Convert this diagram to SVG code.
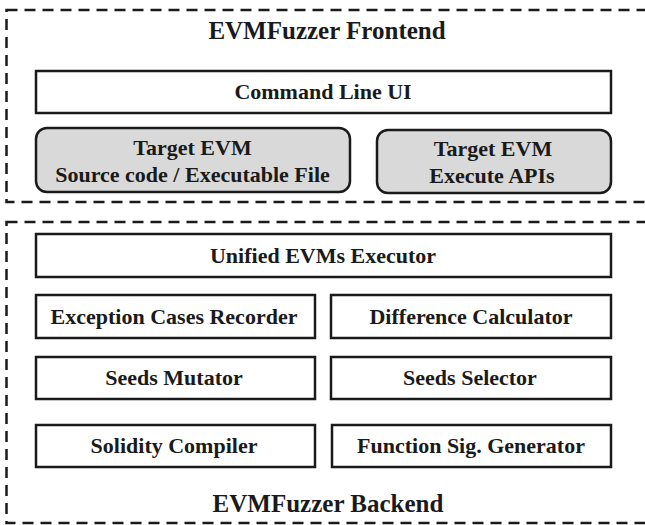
<svg xmlns="http://www.w3.org/2000/svg" width="645" height="525" viewBox="0 0 645 525">
  <style>
    .frame { fill: none; stroke: #1a1a1a; stroke-width: 2.5; stroke-dasharray: 11 7; }
    .box { fill: #ffffff; stroke: #1a1a1a; stroke-width: 2.5; }
    .gbox { fill: #d9d9d9; stroke: #1a1a1a; stroke-width: 2.5; }
    .lbl { font-family: "Liberation Serif", "Times New Roman", serif; font-weight: bold; font-size: 22px; fill: #1a1a1a; text-anchor: middle; }
    .ttl { font-family: "Liberation Serif", "Times New Roman", serif; font-weight: bold; font-size: 25px; fill: #1a1a1a; text-anchor: middle; }
  </style>
  <rect width="645" height="525" fill="#ffffff"/>

  <g id="frontend">
    <rect class="frame" x="6.5" y="10" width="700" height="192"/>
    <text class="ttl" x="327" y="39">EVMFuzzer Frontend</text>
  </g>

  <g id="backend">
    <rect class="frame" x="6.5" y="222" width="700" height="301"/>
    <text class="ttl" x="328" y="512">EVMFuzzer Backend</text>
  </g>

  <g id="command-line-ui">
    <rect class="box" x="36" y="71" width="575" height="42"/>
    <text class="lbl" x="323" y="99">Command Line UI</text>
  </g>

  <g id="target-evm-source">
    <rect class="gbox" x="36" y="128" width="314" height="64" rx="11" ry="11"/>
    <text class="lbl" x="192.5" y="155">Target EVM</text>
    <text class="lbl" x="192.5" y="182">Source code / Executable File</text>
  </g>

  <g id="target-evm-apis">
    <rect class="gbox" x="377" y="130" width="234" height="63" rx="11" ry="11"/>
    <text class="lbl" x="493" y="156">Target EVM</text>
    <text class="lbl" x="492" y="183">Execute APIs</text>
  </g>

  <g id="unified-executor">
    <rect class="box" x="36" y="234" width="575" height="43"/>
    <text class="lbl" x="323" y="263">Unified EVMs Executor</text>
  </g>

  <g id="exception-recorder">
    <rect class="box" x="36" y="295" width="279" height="43"/>
    <text class="lbl" x="174" y="324">Exception Cases Recorder</text>
  </g>

  <g id="difference-calculator">
    <rect class="box" x="331" y="295" width="280" height="43"/>
    <text class="lbl" x="471" y="324">Difference Calculator</text>
  </g>

  <g id="seeds-mutator">
    <rect class="box" x="36" y="357" width="279" height="42"/>
    <text class="lbl" x="174" y="385">Seeds Mutator</text>
  </g>

  <g id="seeds-selector">
    <rect class="box" x="331" y="357" width="280" height="42"/>
    <text class="lbl" x="470" y="385">Seeds Selector</text>
  </g>

  <g id="solidity-compiler">
    <rect class="box" x="36" y="425" width="279" height="42"/>
    <text class="lbl" x="174" y="453">Solidity Compiler</text>
  </g>

  <g id="function-sig-generator">
    <rect class="box" x="332" y="425" width="279" height="42"/>
    <text class="lbl" x="471" y="453">Function Sig. Generator</text>
  </g>

  <g id="connectors"></g>
</svg>
